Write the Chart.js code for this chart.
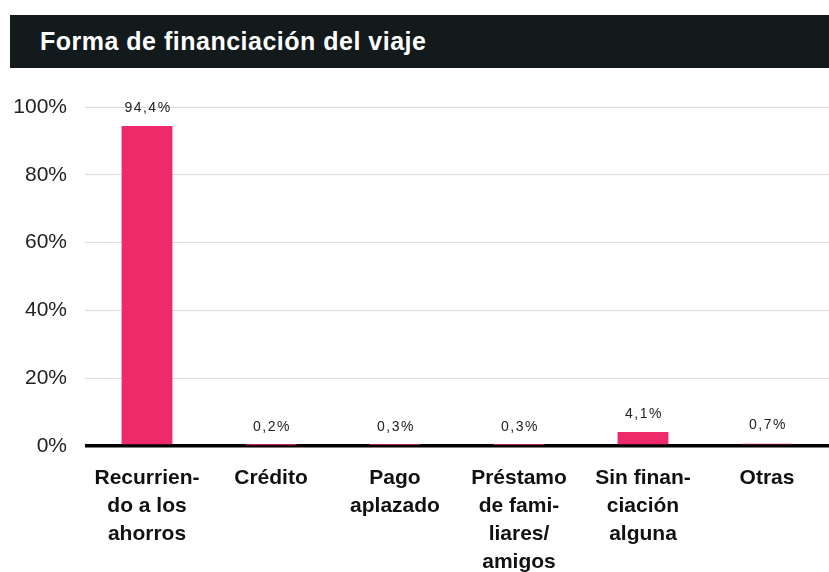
<!DOCTYPE html>
<html>
<head>
<meta charset="utf-8">
<script src="https://cdn.jsdelivr.net/npm/chart.js@4"></script>
<style>
  html, body { margin: 0; padding: 0; background: #fff; }
  body { width: 829px; height: 572px; position: relative; overflow: hidden;
         font-family: "Liberation Sans", Arial, Helvetica, sans-serif; }
  #title { position: absolute; left: 10px; top: 15px; width: 819px; height: 53px;
           background: #121a1c; color: #fff; font-weight: bold; font-size: 25px;
           letter-spacing: 0.5px; line-height: 53px; padding-left: 30px; box-sizing: border-box; }
  #wrap { position: absolute; left: 0; top: 68px; width: 829px; height: 504px; }
</style>
</head>
<body>
<div id="title">Forma de financiación del viaje</div>
<div id="wrap"><canvas id="chart"></canvas></div>
<script>
// ---------------- Data ----------------
const categories = [
  ["Recurrien-", "do a los", "ahorros"],
  ["Crédito"],
  ["Pago", "aplazado"],
  ["Préstamo", "de fami-", "liares/", "amigos"],
  ["Sin finan-", "ciación", "alguna"],
  ["Otras"]
];
const values = [94.4, 0.2, 0.3, 0.3, 4.1, 0.7];
const valueLabels = ["94,4%", "0,2%", "0,3%", "0,3%", "4,1%", "0,7%"];
const yTicks = [0, 20, 40, 60, 80, 100];

const FONT = '"Liberation Sans", Arial, Helvetica, sans-serif';

// ---------------- Value labels ----------------
const valueLabelPlugin = {
  id: "valueLabels",
  afterDatasetsDraw(chart) {
    const ctx = chart.ctx;
    const meta = chart.getDatasetMeta(0);
    ctx.save();
    ctx.font = "14px " + FONT;
    ctx.letterSpacing = "1.5px";
    ctx.fillStyle = "#222";
    ctx.textAlign = "center";
    ctx.textBaseline = "middle";
    meta.data.forEach((bar, i) => {
      ctx.fillText(valueLabels[i], bar.x + 1, bar.y - 18);
    });
    ctx.restore();
  }
};

// ---------------- Chart ----------------
new Chart(document.getElementById("chart"), {
  type: "bar",
  data: {
    labels: categories,
    datasets: [{
      data: values,
      backgroundColor: "#ee2a6b",
      barPercentage: 0.41,
      categoryPercentage: 1
    }]
  },
  options: {
    responsive: true,
    maintainAspectRatio: false,
    animation: false,
    layout: { padding: { top: 39, right: 0, left: 0, bottom: 0 } },
    plugins: { legend: { display: false }, tooltip: { enabled: false } },
    scales: {
      x: {
        grid: { display: false, drawTicks: false },
        border: { display: false },
        ticks: {
          color: "#111",
          font: { family: FONT, size: 21, weight: "bold", lineHeight: 1.333 },
          padding: 18,
          maxRotation: 0,
          autoSkip: false
        },
        afterFit(scale) { scale.height = 126; }
      },
      y: {
        min: 0,
        max: 100,
        afterBuildTicks(scale) { scale.ticks = yTicks.map(v => ({ value: v })); },
        grid: {
          drawTicks: false,
          color: c => (c.tick && c.tick.value === 0 ? "#000" : "#dcdcdc"),
          lineWidth: c => (c.tick && c.tick.value === 0 ? 3.5 : 1)
        },
        border: { display: false },
        ticks: {
          color: "#222",
          font: { family: FONT, size: 21 },
          padding: 18,
          callback: v => v + "%"
        },
        afterFit(scale) { scale.width = 85; }
      }
    }
  },
  plugins: [valueLabelPlugin]
});
</script>
</body>
</html>
